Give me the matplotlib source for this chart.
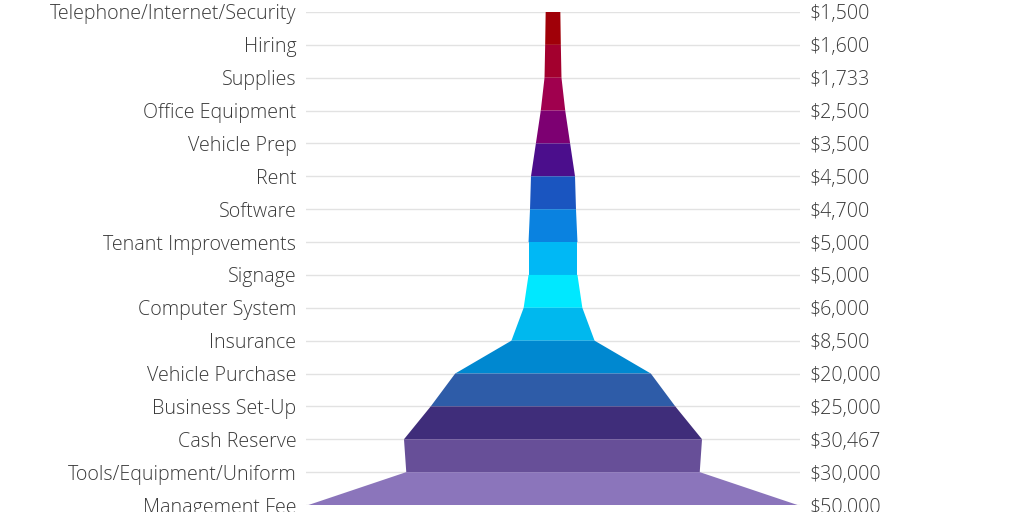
import numpy as np
import matplotlib.pyplot as plt

# startup cost items, top to bottom
categories = ["Telephone/Internet/Security", "Hiring", "Supplies", "Office Equipment",
              "Vehicle Prep", "Rent", "Software", "Tenant Improvements", "Signage",
              "Computer System", "Insurance", "Vehicle Purchase", "Business Set-Up",
              "Cash Reserve", "Tools/Equipment/Uniform", "Management Fee"]
values = [1500, 1600, 1733, 2500, 3500, 4500, 4700, 5000, 5000, 6000, 8500,
          20000, 25000, 30467, 30000, 50000]
value_labels = ["$1,500", "$1,600", "$1,733", "$2,500", "$3,500", "$4,500", "$4,700",
                "$5,000", "$5,000", "$6,000", "$8,500", "$20,000", "$25,000",
                "$30,467", "$30,000", "$50,000"]
band_colors = ["#a00008", "#a3002e", "#a0004e", "#7d0072", "#4b0e8c", "#1a55c0",
               "#0a82e0", "#00b8f5", "#00e8ff", "#00b8ee", "#0088d0", "#2e5ca8",
               "#3f2d7a", "#674f98", "#8b75bb"]

plt.rcParams['font.family'] = ['Open Sans', 'DejaVu Sans']

fig = plt.figure(figsize=(10.24, 5.12), dpi=100)
ax = fig.add_axes([306 / 1024, 7 / 512, 494 / 1024, 493 / 512])

n = len(values)
ypos = np.arange(n)
half = np.array(values) / 2.0

# gridlines under the funnel
for y in ypos:
    ax.axhline(y, color="#e2e2e2", lw=1.0, zorder=0)

# each band is a trapezoid from one row's width to the next
for i in range(n - 1):
    xs = [-half[i], half[i], half[i + 1], -half[i + 1]]
    ys = [ypos[i], ypos[i], ypos[i + 1], ypos[i + 1]]
    ax.fill(xs, ys, color=band_colors[i], lw=0, zorder=2)

ax.set_xlim(-25250, 25250)
ax.set_ylim(n - 1, 0)

ax.set_yticks(ypos)
ax.set_yticklabels(categories)
ax.tick_params(axis="y", length=0, pad=7, labelsize=14.1, labelcolor="#3a3a3a")
ax.set_xticks([])

ax2 = ax.twinx()
ax2.set_ylim(n - 1, 0)
ax2.set_yticks(ypos)
ax2.set_yticklabels(value_labels)
ax2.tick_params(axis="y", length=0, pad=7, labelsize=14.1, labelcolor="#3a3a3a")

for a in (ax, ax2):
    for s in a.spines.values():
        s.set_visible(False)
    for t in a.get_yticklabels():
        t.set_fontweight("light")
        t.set_clip_on(False)

fig.savefig("out.png", dpi=100)
